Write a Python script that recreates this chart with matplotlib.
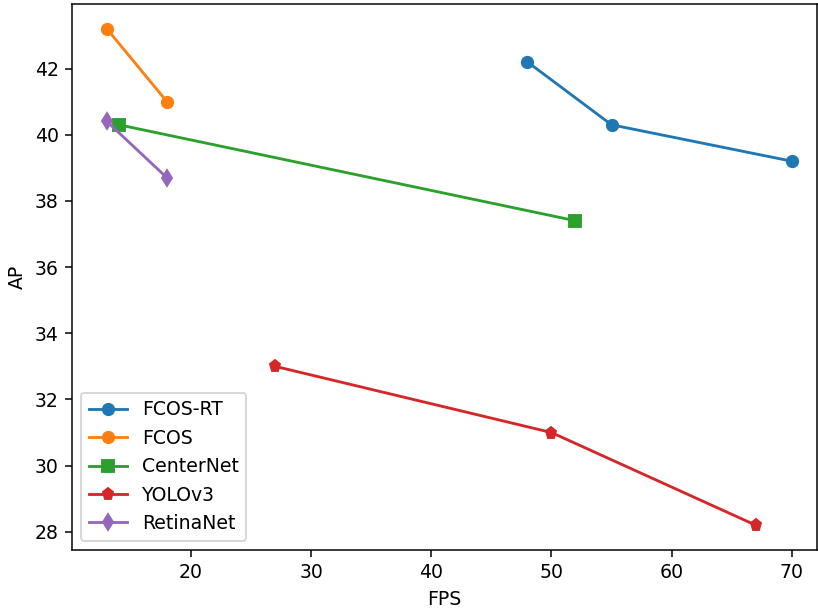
import matplotlib
matplotlib.use('Agg')
import matplotlib.pyplot as plt

# FPS / AP pairs per detector
fcos_rt_fps = [48, 55, 70]
fcos_rt_ap = [42.2, 40.3, 39.2]
fcos_fps = [13, 18]
fcos_ap = [43.2, 41.0]
centernet_fps = [14, 52]
centernet_ap = [40.3, 37.4]
yolo_fps = [27, 50, 67]
yolo_ap = [33.0, 31.0, 28.2]
retina_fps = [13, 18]
retina_ap = [40.4, 38.7]

dpi = 136
fig = plt.figure(figsize=(818 / dpi, 611 / dpi), dpi=dpi)
ax = fig.add_axes([72 / 818, 1 - 550 / 611, (817 - 72) / 818, (550 - 4) / 611])

ax.plot(fcos_rt_fps, fcos_rt_ap, marker='o', label='FCOS-RT')
ax.plot(fcos_fps, fcos_ap, marker='o', label='FCOS')
ax.plot(centernet_fps, centernet_ap, marker='s', label='CenterNet')
ax.plot(yolo_fps, yolo_ap, marker='p', label='YOLOv3')
ax.plot(retina_fps, retina_ap, marker='d', label='RetinaNet')

ax.set_xlim(10.1, 72.1)
ax.set_xlabel('FPS')
ax.set_ylabel('AP')
ax.legend(loc='lower left')

fig.savefig('out.png', dpi=dpi)
